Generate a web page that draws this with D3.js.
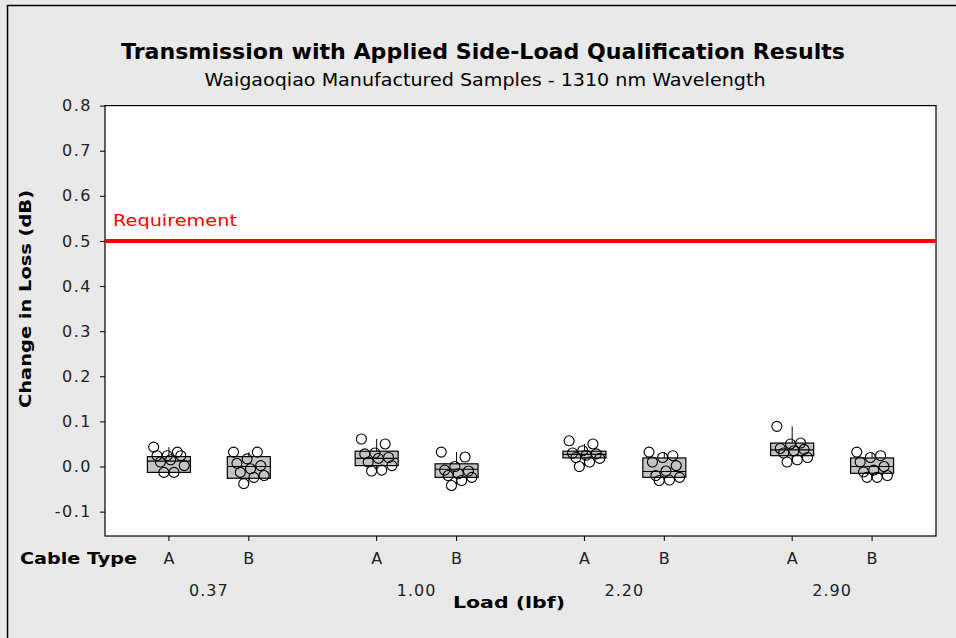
<!DOCTYPE html>
<html>
<head>
<meta charset="utf-8">
<script src="https://cdn.jsdelivr.net/npm/d3@7"></script>
<style>
  body { margin: 0; background: #e9e9e9; }
  svg { display: block; }
  text { font-family: "DejaVu Sans", Verdana, sans-serif; }
</style>
</head>
<body>
<div id="chart"></div>
<script>
// data
const loads = ["0.37", "1.00", "2.20", "2.90"];
const cableTypes = ["A", "B"];
const yTicks = [-0.1, 0, 0.1, 0.2, 0.3, 0.4, 0.5, 0.6, 0.7, 0.8];
const requirement = 0.5;

// box stats per load x cable type (0.37A, 0.37B, 1.00A, ...)
const q1 = [-0.013, -0.026, 0.002, -0.024, 0.019, -0.024, 0.024, -0.015];
const medians = [0.012, 0.0, 0.018, -0.006, 0.027, -0.011, 0.037, 0.0];
const q3 = [0.022, 0.022, 0.034, 0.006, 0.034, 0.019, 0.052, 0.019];

// individual values
const points = [
  [0.043, 0.032, 0.024, 0.024, 0.024, 0.015, 0.010, 0.002, -0.013, -0.013],
  [0.032, 0.032, 0.017, 0.007, 0.002, -0.005, -0.013, -0.020, -0.024, -0.038],
  [0.061, 0.050, 0.030, 0.028, 0.020, 0.018, 0.010, 0.002, -0.008, -0.010],
  [0.032, 0.021, 0.0, -0.008, -0.010, -0.016, -0.020, -0.024, -0.031, -0.042],
  [0.057, 0.050, 0.035, 0.030, 0.028, 0.025, 0.020, 0.018, 0.010, 0.0],
  [0.032, 0.024, 0.020, 0.010, 0.002, -0.010, -0.020, -0.024, -0.030, -0.031],
  [0.089, 0.052, 0.050, 0.040, 0.038, 0.035, 0.030, 0.020, 0.015, 0.010],
  [0.032, 0.024, 0.020, 0.010, 0.0, -0.008, -0.012, -0.020, -0.024, -0.024]
];

const W = 956, H = 638;
const plot = { left: 105, right: 936, top: 105.6, bottom: 536 };

const svg = d3.select("#chart").append("svg").attr("width", W).attr("height", H);

// frame (left + top edge only, like the source crop)
svg.append("path").attr("d", `M7.5,${H} V5.5 H${W}`).attr("fill", "none").attr("stroke", "#000").attr("stroke-width", 1.5);

const x0 = d3.scaleBand().domain(loads).range([plot.left, plot.right]);
const x1 = d3.scalePoint().domain(cableTypes).range([0, x0.bandwidth()]).padding(0.8);
const y = d3.scaleLinear().domain([-0.154, 0.8]).range([plot.bottom, plot.top]);

svg.append("rect").attr("x", plot.left).attr("y", plot.top)
  .attr("width", plot.right - plot.left).attr("height", plot.bottom - plot.top)
  .attr("fill", "#fff").attr("stroke", "#000").attr("stroke-width", 1.2);

// helper: text squeezed/stretched to the width it has in the source
function label(x, yy, str, opts) {
  const t = svg.append("text").attr("x", x).attr("y", yy).text(str)
    .attr("font-size", opts.size).attr("fill", opts.fill || "#000")
    .attr("text-anchor", opts.anchor || "start");
  if (opts.bold) t.attr("font-weight", "bold");
  if (opts.len) t.attr("textLength", opts.len).attr("lengthAdjust", "spacingAndGlyphs");
  if (opts.transform) t.attr("transform", opts.transform);
  return t;
}

// titles
label(483, 59, "Transmission with Applied Side-Load Qualification Results", { size: 22, bold: true, anchor: "middle", len: 724 });
label(485, 86, "Waigaoqiao Manufactured Samples - 1310 nm Wavelength", { size: 17, anchor: "middle", len: 561 });

// y axis
const yAxis = d3.axisLeft(y).tickValues(yTicks).tickSize(5).tickPadding(8)
  .tickFormat(d => d3.format(".1f")(d).replace("−", "-"));
const ya = svg.append("g").attr("transform", `translate(${plot.left},0)`).call(yAxis);
ya.select(".domain").remove();
ya.selectAll("text").attr("font-size", 16).attr("fill", "#222").attr("letter-spacing", 1.5)
  .style("font-family", "'DejaVu Sans', Verdana, sans-serif");

svg.append("text").attr("x", 0).attr("y", 0)
  .attr("transform", "translate(31,299) rotate(-90)").attr("text-anchor", "middle")
  .attr("font-size", 16).attr("font-weight", "bold").attr("fill", "#000")
  .attr("textLength", 218).attr("lengthAdjust", "spacingAndGlyphs")
  .text("Change in Loss  (dB)");

// requirement line
svg.append("line").attr("x1", plot.left).attr("x2", plot.right)
  .attr("y1", y(requirement)).attr("y2", y(requirement))
  .attr("stroke", "#ff0000").attr("stroke-width", 4);
label(113, y(requirement) - 15, "Requirement", { size: 16, fill: "#ff0000", len: 124 });

// boxes
const boxes = [];
loads.forEach((load, i) => {
  cableTypes.forEach((ct, j) => {
    const k = i * 2 + j;
    boxes.push({ load, ct, q1: q1[k], med: medians[k], q3: q3[k], pts: points[k] });
  });
});

const boxW = 43;
const g = svg.append("g");
boxes.forEach(b => {
  const cx = x0(b.load) + x1(b.ct);
  const iqr = b.q3 - b.q1;
  const lo = d3.min(b.pts.filter(v => v >= b.q1 - 1.5 * iqr));
  const hi = d3.max(b.pts.filter(v => v <= b.q3 + 1.5 * iqr));
  g.append("line").attr("x1", cx).attr("x2", cx).attr("y1", y(hi)).attr("y2", y(b.q3)).attr("stroke", "#000");
  g.append("line").attr("x1", cx).attr("x2", cx).attr("y1", y(b.q1)).attr("y2", y(lo)).attr("stroke", "#000");
  g.append("rect").attr("x", cx - boxW / 2).attr("y", y(b.q3))
    .attr("width", boxW).attr("height", y(b.q1) - y(b.q3))
    .attr("fill", "#c3c3c3").attr("stroke", "#000").attr("stroke-width", 1.2);
  g.append("line").attr("x1", cx - boxW / 2).attr("x2", cx + boxW / 2)
    .attr("y1", y(b.med)).attr("y2", y(b.med)).attr("stroke", "#000").attr("stroke-width", 1.2);
  // jittered individual values (deterministic spread)
  g.selectAll(null).data(b.pts).join("circle")
    .attr("cx", (d, i) => cx + (((i * 7) % 10) - 4.5) * 3.4)
    .attr("cy", d => y(d))
    .attr("r", 5)
    .attr("fill", "none").attr("stroke", "#000").attr("stroke-width", 1.1);
});

// x axis (two-level)
const xa = svg.append("g");
boxes.forEach(b => {
  const cx = x0(b.load) + x1(b.ct);
  xa.append("line").attr("x1", cx).attr("x2", cx).attr("y1", plot.bottom).attr("y2", plot.bottom + 5).attr("stroke", "#000");
  xa.append("text").attr("x", cx).attr("y", 564).attr("text-anchor", "middle")
    .attr("font-size", 16).attr("fill", "#222").text(b.ct);
});
loads.forEach(l => {
  xa.append("text").attr("x", x0(l) + x0.bandwidth() / 2).attr("y", 596).attr("text-anchor", "middle")
    .attr("font-size", 16).attr("fill", "#222").attr("letter-spacing", 1).text(l);
});
label(20, 564, "Cable Type", { size: 16, bold: true, len: 117 });
label(509, 608, "Load  (lbf)", { size: 16, bold: true, anchor: "middle", len: 112 });
</script>
</body>
</html>
